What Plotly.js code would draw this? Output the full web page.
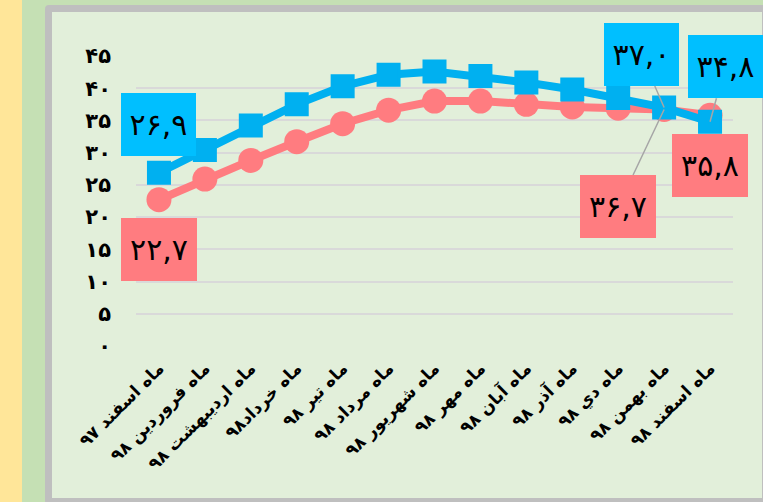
<!DOCTYPE html>
<html>
<head>
<meta charset="utf-8">
<script src="https://cdn.plot.ly/plotly-3.0.1.min.js"></script>
<style>
  html, body { margin: 0; padding: 0; width: 763px; height: 502px; overflow: hidden; background: #C5E0B4; }
  #yellow { position: absolute; left: 0; top: 0; width: 22px; height: 502px; background: #FFE699; }
  #panel { position: absolute; left: 45px; top: 5px; width: 710px; height: 486px; border: 7px solid #BFBFBF; border-radius: 4px; background: #E2EFDA; }
  #chart { position: absolute; left: 0; top: 0; width: 763px; height: 502px; }
</style>
</head>
<body>
<div id="yellow"></div>
<div id="panel"></div>
<div id="chart"></div>
<script>
// Categories (months)
const months = [
  "ماه اسفند ۹۷", "ماه فروردین ۹۸", "ماه اردیبهشت ۹۸", "ماه خرداد۹۸", "ماه تیر ۹۸",
  "ماه مرداد ۹۸", "ماه شهریور ۹۸", "ماه مهر ۹۸", "ماه آبان ۹۸", "ماه آذر ۹۸",
  "ماه دي ۹۸", "ماه بهمن ۹۸", "ماه اسفند ۹۸"
];
// Series values
const blueValues = [26.9, 30.4, 34.2, 37.5, 40.3, 42.1, 42.6, 41.9, 40.9, 39.8, 38.5, 37.0, 34.8];
const pinkValues = [22.7, 25.9, 28.8, 31.7, 34.5, 36.6, 38.0, 38.0, 37.5, 37.1, 36.9, 36.7, 35.8];
// Y tick labels
const yTickVals = [0, 5, 10, 15, 20, 25, 30, 35, 40, 45];
const yTickText = ["۰", "۵", "۱۰", "۱۵", "۲۰", "۲۵", "۳۰", "۳۵", "۴۰", "۴۵"];
// Labelled points: index and label text
const blueLabelIdx = [0, 11, 12];
const blueLabelText = ["۲۶,۹", "۳۷,۰", "۳۴,۸"];
const pinkLabelIdx = [0, 11, 12];
const pinkLabelText = ["۲۲,۷", "۳۶,۷", "۳۵,۸"];

const BLUE = "#00B0F0", BLUE_BOX = "#00BFFF", PINK = "#FF7C80";

const traces = [
  {
    x: months, y: pinkValues, type: "scatter", mode: "lines+markers",
    line: { color: PINK, width: 8 },
    marker: { symbol: "circle", size: 25, color: PINK },
    hoverinfo: "skip", cliponaxis: false
  },
  {
    x: months, y: blueValues, type: "scatter", mode: "lines+markers",
    line: { color: BLUE, width: 8 },
    marker: { symbol: "square", size: 21, color: BLUE, line: { color: BLUE, width: 3 } },
    hoverinfo: "skip", cliponaxis: false
  }
];

// label offsets (pixel placement of boxes relative to the point)
const blueOffsets = [[0, -48], [-23, -53], [15, -55]];
const pinkOffsets = [[0, 50], [-46, 97], [0, 50]];
const blueLine = [false, true, true];
const pinkLine = [false, true, false];

const annotations = [];
pinkLabelIdx.forEach((idx, k) => {
  annotations.push({
    x: months[idx], y: pinkValues[idx], xref: "x", yref: "y",
    text: pinkLabelText[k], showarrow: true, arrowhead: 0, standoff: 0,
    arrowcolor: pinkLine[k] ? "#A6A6A6" : "rgba(0,0,0,0)", arrowwidth: 1.5,
    ax: pinkOffsets[k][0], ay: pinkOffsets[k][1],
    bgcolor: PINK, borderpad: 0, borderwidth: 0, width: 76, height: 63,
    font: { family: "DejaVu Sans", size: 30, color: "#000000" }
  });
});
blueLabelIdx.forEach((idx, k) => {
  annotations.push({
    x: months[idx], y: blueValues[idx], xref: "x", yref: "y",
    text: blueLabelText[k], showarrow: true, arrowhead: 0, standoff: 0,
    arrowcolor: blueLine[k] ? "#A6A6A6" : "rgba(0,0,0,0)", arrowwidth: 1.5,
    ax: blueOffsets[k][0], ay: blueOffsets[k][1],
    bgcolor: BLUE_BOX, borderpad: 0, borderwidth: 0, width: 75, height: 63,
    font: { family: "DejaVu Sans", size: 30, color: "#000000" }
  });
});

const layout = {
  width: 763, height: 502,
  margin: { l: 136, r: 30, t: 55.5, b: 156, pad: 0 },
  paper_bgcolor: "rgba(0,0,0,0)", plot_bgcolor: "rgba(0,0,0,0)",
  showlegend: false,
  xaxis: {
    type: "category", range: [-0.5, 12.5], tickangle: -45, automargin: false,
    showgrid: false, zeroline: false, showline: false, ticks: "",
    tickfont: { family: "DejaVu Sans", size: 17, color: "#000000", weight: "bold" },
    ticklabelstandoff: 8
  },
  yaxis: {
    range: [0, 45], tickvals: yTickVals, ticktext: yTickText, automargin: false,
    showgrid: true, gridcolor: "#D9D9D9", gridwidth: 2, zeroline: false, showline: false, ticks: "",
    tickfont: { family: "DejaVu Sans", size: 21, color: "#000000", weight: "bold" },
    ticklabelstandoff: 24
  },
  annotations: annotations
};

Plotly.newPlot("chart", traces, layout, { displayModeBar: false, staticPlot: true });
</script>
</body>
</html>
